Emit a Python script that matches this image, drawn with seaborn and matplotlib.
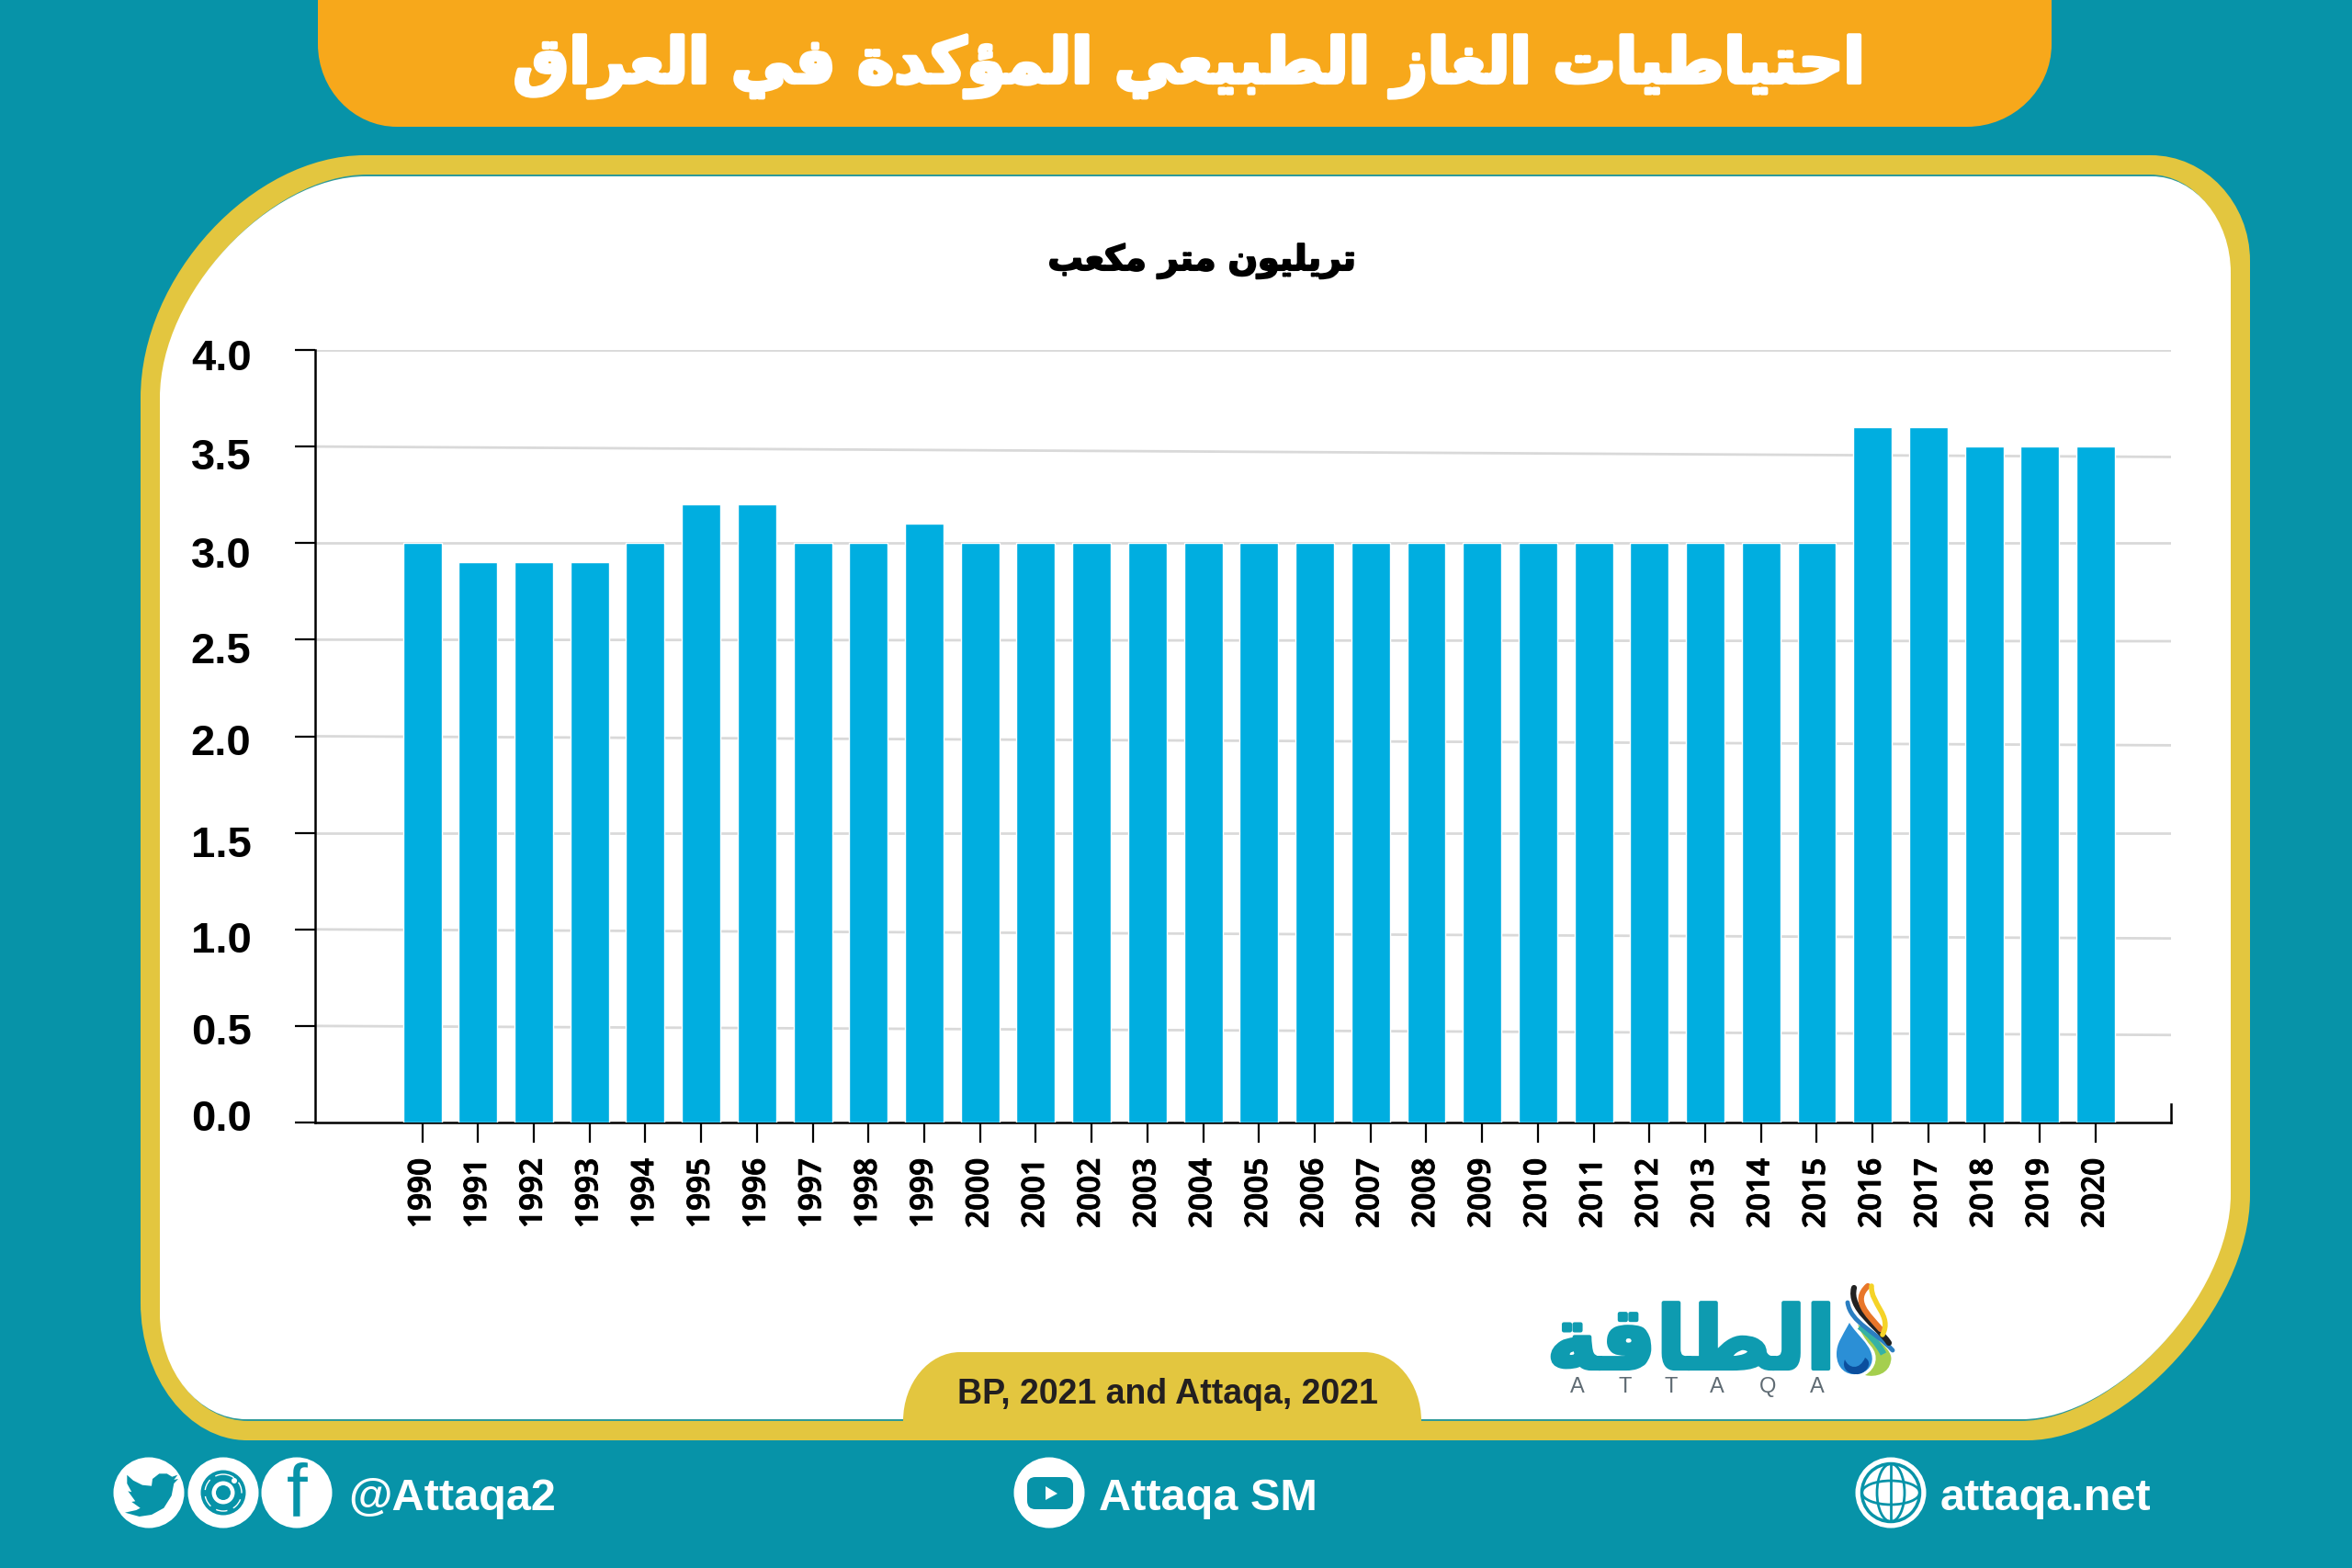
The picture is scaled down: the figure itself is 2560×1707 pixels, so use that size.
import matplotlib
matplotlib.use('Agg')
import matplotlib.pyplot as plt
import matplotlib.patheffects as pe
import pandas as pd
import seaborn as sns
from matplotlib.patches import Circle, Ellipse, FancyBboxPatch, PathPatch, Polygon
from matplotlib.path import Path
from matplotlib.transforms import ScaledTranslation

years = list(range(1990, 2021))
reserves = [3.0, 2.9, 2.9, 2.9, 3.0, 3.2, 3.2, 3.0, 3.0, 3.1,
            3.0, 3.0, 3.0, 3.0, 3.0, 3.0, 3.0, 3.0, 3.0, 3.0,
            3.0, 3.0, 3.0, 3.0, 3.0, 3.0, 3.6, 3.6, 3.5, 3.5, 3.5]
y_ticks = [0.0, 0.5, 1.0, 1.5, 2.0, 2.5, 3.0, 3.5, 4.0]
# the gridlines in the original are not quite level, drop at the right end
grid_drop = [0.0, 0.047, 0.047, 0.0, 0.047, 0.008, 0.0, 0.054, 0.0]
# tick labels are hand placed in the original, offset under each tick in points
label_shift = [-6, 2.5, 6, 7, 2.5, 6, 7, 6, 3.5]

title_text = 'احتياطيات الغاز الطبيعي المؤكدة في العراق'
unit_text = 'تريليون متر مكعب'
logo_text = 'الطاقة'
source_text = 'BP, 2021 and Attaqa, 2021'

TEAL = '#0793A8'
ORANGE = '#F7A81B'
GOLD = '#E3C63F'
BAR = '#00AEE0'

# first code point of each letter in Arabic Presentation Forms-B
AR_BASE = {'ا': 0xFE8D, 'ب': 0xFE8F, 'ة': 0xFE93, 'ت': 0xFE95, 'ح': 0xFEA1, 'د': 0xFEA9,
           'ر': 0xFEAD, 'ز': 0xFEAF, 'ط': 0xFEC1, 'ع': 0xFEC9, 'غ': 0xFECD, 'ف': 0xFED1,
           'ق': 0xFED5, 'ك': 0xFED9, 'ل': 0xFEDD, 'م': 0xFEE1, 'ن': 0xFEE5, 'و': 0xFEED,
           'ؤ': 0xFE85, 'ي': 0xFEF1}
AR_RIGHT_ONLY = set('اةدرزوؤ')


def shape_arabic(text):
    # matplotlib has no shaping, so pick the joined forms and reverse by hand
    out = []
    for i, ch in enumerate(text):
        if ch not in AR_BASE:
            out.append(ch)
            continue
        prev = text[i - 1] if i > 0 else ' '
        nxt = text[i + 1] if i + 1 < len(text) else ' '
        join_prev = prev in AR_BASE and prev not in AR_RIGHT_ONLY
        join_next = ch not in AR_RIGHT_ONLY and nxt in AR_BASE
        form = {(False, False): 0, (True, False): 1, (False, True): 2, (True, True): 3}[(join_prev, join_next)]
        out.append(chr(AR_BASE[ch] + form))
    return ''.join(reversed(out))


def panel_path(left, top, right, bottom, tl, tr, br, bl):
    # rounded box, each corner is (rx, ry, k) with k the bezier handle factor
    def h(c):
        return c[0] * (1 - c[2]), c[1] * (1 - c[2])
    verts = [(left + tl[0], top), (right - tr[0], top),
             (right - h(tr)[0], top), (right, top + h(tr)[1]), (right, top + tr[1]),
             (right, bottom - br[1]),
             (right, bottom - h(br)[1]), (right - h(br)[0], bottom), (right - br[0], bottom),
             (left + bl[0], bottom),
             (left + h(bl)[0], bottom), (left, bottom - h(bl)[1]), (left, bottom - bl[1]),
             (left, top + tl[1]),
             (left, top + h(tl)[1]), (left + h(tl)[0], top), (left + tl[0], top),
             (left + tl[0], top)]
    codes = [Path.MOVETO, Path.LINETO, Path.CURVE4, Path.CURVE4, Path.CURVE4, Path.LINETO,
             Path.CURVE4, Path.CURVE4, Path.CURVE4, Path.LINETO, Path.CURVE4, Path.CURVE4, Path.CURVE4,
             Path.LINETO, Path.CURVE4, Path.CURVE4, Path.CURVE4, Path.CLOSEPOLY]
    return Path(verts, codes)


def curve(*pts):
    return Path(pts, [Path.MOVETO] + [Path.CURVE4] * (len(pts) - 1))


def draw_background(bg):
    square = (1, 1, 0.55)
    bg.add_patch(PathPatch(panel_path(346, -10, 2233, 138, square, square, (92, 90, 0.55), (86, 90, 0.55)), fc=ORANGE, ec='none'))
    bg.add_patch(PathPatch(panel_path(153, 169, 2449, 1568, (244, 264, 0.5), (108, 115, 0.55), (242, 267, 0.45), (116, 150, 0.55)), fc=GOLD, ec='none'))
    inner = ((224, 241, 0.47), (86, 105, 0.55), (227, 245, 0.45), (94, 115, 0.55))
    # thin teal line only shows along the top and bottom of the white panel
    bg.add_patch(PathPatch(panel_path(176, 190, 2426, 1547, *inner), fc='#2E9A9A', ec='none'))
    bg.add_patch(PathPatch(panel_path(174, 192, 2428, 1545, *inner), fc='white', ec='none'))
    # source tab sits on the lower gold edge
    bg.add_patch(PathPatch(panel_path(983, 1472, 1547, 1560, (62, 75, 0.55), (62, 75, 0.55), square, square), fc=GOLD, ec='none'))
    bg.text(1271, 1518, source_text, fontsize=27, fontweight='bold', color='#231F20', ha='center', va='center')


def draw_icons(bg):
    for cx in [162, 243, 323, 1142, 2058]:
        bg.add_patch(Circle((cx, 1625), 38.5, fc='white', ec='none'))
    # twitter bird
    bird = [(138.3, 1605.7), (145, 1611.7), (155, 1616.7), (165, 1617.7), (166, 1610), (173.3, 1604.3),
            (181.7, 1604.3), (187.3, 1607.7), (193.3, 1605.7), (189.3, 1611), (194, 1610), (189.3, 1615),
            (186.7, 1628.3), (178.3, 1641.7), (165, 1649), (151.7, 1651), (136, 1646.7), (148.3, 1644),
            (152.7, 1641.7), (143.3, 1635), (147.3, 1634.3), (139.3, 1623.3), (143.3, 1624.3), (138.3, 1615)]
    bg.add_patch(Polygon(bird, fc=TEAL, ec='none'))
    # instagram
    bg.add_patch(Circle((243, 1625), 24.5, fc=TEAL, ec='none'))
    bg.add_patch(Circle((243, 1625), 20, fc='none', ec='white', lw=1, ls=(0, (9, 5))))
    bg.add_patch(Circle((243, 1625), 12.5, fc='white', ec='none'))
    bg.add_patch(Circle((243, 1625), 8, fc=TEAL, ec='none'))
    bg.add_patch(Circle((255, 1612), 3, fc='white', ec='none'))
    # facebook
    bg.text(323, 1650, 'f', fontsize=59, color=TEAL, ha='center', va='baseline')
    # youtube
    bg.add_patch(FancyBboxPatch((1118, 1608), 50, 35, boxstyle='round,pad=0,rounding_size=9', fc=TEAL, ec='none'))
    bg.add_patch(Polygon([(1138, 1618), (1138, 1633), (1151, 1626)], fc='white', ec='none'))
    # globe
    bg.add_patch(Circle((2058, 1625), 31.5, fc='white', ec=TEAL, lw=2.5))
    bg.add_patch(Ellipse((2058, 1625), 30, 63, fc='none', ec=TEAL, lw=2))
    bg.add_patch(Ellipse((2058, 1625), 63, 26, fc='none', ec=TEAL, lw=2))
    bg.plot([2058, 2058], [1594, 1656], color=TEAL, lw=2)


def draw_logo(bg):
    bg.text(1841, 1490, shape_arabic(logo_text), fontsize=68, fontweight='bold', color='#0E9BB0',
            ha='center', va='baseline', family='DejaVu Sans',
            path_effects=[pe.withStroke(linewidth=3, foreground='#0E9BB0')])
    for x, letter in zip([1717, 1769, 1819, 1869, 1924, 1978], 'ATTAQA'):
        bg.text(x, 1510, letter, fontsize=17, color='#5F6B73', ha='center', va='center')
    # green swoosh, drop and the ribbons above it
    green = Path([(2022, 1442), (2040, 1455), (2062, 1470), (2058, 1482), (2056, 1495), (2042, 1500), (2030, 1497),
                  (2042, 1490), (2046, 1476), (2036, 1465), (2030, 1458), (2025, 1450), (2022, 1442), (2022, 1442)],
                 [Path.MOVETO] + [Path.CURVE4] * 12 + [Path.CLOSEPOLY])
    bg.add_patch(PathPatch(green, fc='#A5CF4E', ec='none'))
    teal_band = curve((2024, 1444), (2034, 1452), (2044, 1462), (2050, 1474))
    bg.add_patch(PathPatch(teal_band, fc='none', ec='#35B2A6', lw=5))
    drop = Path([(2013, 1440), (2005, 1455), (1999, 1462), (1999, 1474), (1999, 1490), (2010, 1497), (2020, 1496),
                 (2034, 1495), (2040, 1484), (2037, 1474), (2034, 1462), (2020, 1452), (2013, 1440), (2013, 1440)],
                [Path.MOVETO] + [Path.CURVE4] * 12 + [Path.CLOSEPOLY])
    bg.add_patch(PathPatch(drop, fc='#2B8FD6', ec='none'))
    low = Path([(2008, 1480), (2012, 1490), (2024, 1492), (2030, 1478), (2040, 1484), (2030, 1497), (2020, 1496),
                (2012, 1496), (2004, 1490), (2008, 1480), (2008, 1480)],
               [Path.MOVETO] + [Path.CURVE4] * 9 + [Path.CLOSEPOLY])
    bg.add_patch(PathPatch(low, fc='#0B4F9E', ec='none'))
    ribbons = [('#2B7EC1', [(2011, 1418), (2014, 1440), (2042, 1450), (2060, 1470)], 3.5),
               ('#222222', [(2018, 1402), (2012, 1425), (2042, 1442), (2056, 1462)], 4.5),
               ('#E8762A', [(2033, 1400), (2016, 1416), (2032, 1430), (2047, 1447)], 4.5),
               ('#F5D327', [(2037, 1400), (2036, 1420), (2060, 1432), (2049, 1453)], 4)]
    for color, pts, lw in ribbons:
        bg.add_patch(PathPatch(curve(*pts), fc='none', ec=color, lw=lw, capstyle='round'))


sns.set_theme(style='white')
plt.rcParams['font.family'] = ['Liberation Sans', 'DejaVu Sans']

fig = plt.figure(figsize=(25.6, 17.07), dpi=100, facecolor=TEAL)

bg = fig.add_axes([0, 0, 1, 1], zorder=0)
bg.set_xlim(0, 2560)
bg.set_ylim(1707, 0)
bg.axis('off')
draw_background(bg)
draw_icons(bg)
draw_logo(bg)

bg.text(1294, 90, shape_arabic(title_text), fontsize=49, fontweight='bold', color='white',
        ha='center', va='baseline', family='DejaVu Sans',
        path_effects=[pe.withStroke(linewidth=3, foreground='white')])
bg.text(1308, 294, shape_arabic(unit_text), fontsize=27.3, fontweight='bold', color='black',
        ha='center', va='baseline', family='DejaVu Sans',
        path_effects=[pe.withStroke(linewidth=1.5, foreground='black')])
for x, label in [(379, '@Attaqa2'), (1196, 'Attaqa SM'), (2112, 'attaqa.net')]:
    bg.text(x, 1632, label, fontsize=35, fontweight='bold', color='white', ha='left', va='center')

# chart area in pixels: x 343-2363, y 381-1222
ax = fig.add_axes([343 / 2560, 1 - 1222 / 1707, 2020 / 2560, 841 / 1707], zorder=1)
ax.patch.set_alpha(0)

df = pd.DataFrame({'year': years, 'reserves': reserves})
sns.barplot(data=df, x='year', y='reserves', color=BAR, saturation=1, width=0.69, ax=ax, zorder=3)

ax.set_xlim(-1.92, 31.35)
ax.set_ylim(0, 4)
ax.set_yticks(y_ticks)
ax.set_yticklabels([f'{v:.1f}' for v in y_ticks], fontsize=34, fontweight='bold', color='black')
ax.set_xticks(range(len(years)))
ax.set_xticklabels(years, rotation=90, fontsize=24, fontweight=600, family='Open Sans', color='black')
ax.set_xlabel('')
ax.set_ylabel('')
ax.tick_params(axis='y', length=16, width=1.6, color='black', pad=34, left=True)
ax.tick_params(axis='x', length=16, width=1.6, color='black', pad=12, bottom=True)

for label, shift in zip(ax.get_yticklabels(), label_shift):
    label.set_transform(label.get_transform() + ScaledTranslation(0, -shift / 72, fig.dpi_scale_trans))
for label in ax.get_xticklabels():
    label.set_path_effects([pe.withStroke(linewidth=0.8, foreground='black')])

grid_trans = ax.get_yaxis_transform()
for v, drop_y in zip(y_ticks[1:], grid_drop[1:]):
    ax.plot([0, 1], [v, v - drop_y], transform=grid_trans, color='#D9D9D9', lw=2, zorder=1)

ax.spines['top'].set_visible(False)
ax.spines['right'].set_bounds(0, 0.095)
for side in ['left', 'bottom', 'right']:
    ax.spines[side].set_color('black')
    ax.spines[side].set_linewidth(1.8)

fig.savefig('out.png', dpi=100, facecolor=TEAL)
